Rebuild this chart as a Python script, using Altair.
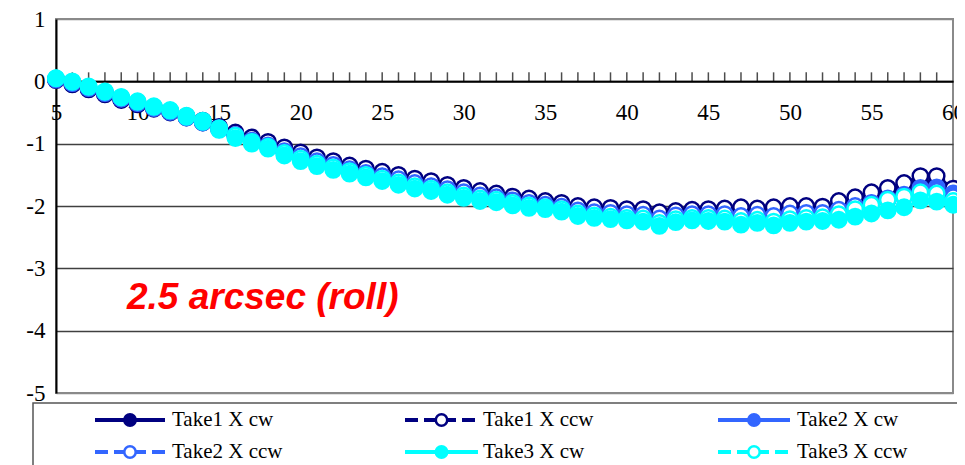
import altair as alt
import pandas as pd

# ---------------- data ----------------
x_vals = list(range(5, 61))
series_names = ["Take1 X cw", "Take1 X ccw", "Take2 X cw", "Take2 X ccw", "Take3 X cw", "Take3 X ccw"]
series_colors = ["#000080", "#000080", "#3366FF", "#3366FF", "#00FFFF", "#00FFFF"]
series_open = [False, True, False, True, False, True]
draw_order = ["Take1 X cw", "Take1 X ccw", "Take2 X cw", "Take2 X ccw", "Take3 X ccw", "Take3 X cw"]
y_ticks = [1, 0, -1, -2, -3, -4, -5]
x_label_vals = [5, 10, 15, 20, 25, 30, 35, 40, 45, 50, 55, 60]
minor_ticks = list(range(6, 60))
annotation = "2.5 arcsec (roll)"

take1_cw = [0.02, -0.05, -0.13, -0.21, -0.30, -0.37, -0.44, -0.50, -0.58, -0.66,
            -0.76, -0.86, -0.94, -1.02, -1.11, -1.19, -1.27, -1.33, -1.40, -1.45,
            -1.50, -1.56, -1.61, -1.66, -1.71, -1.76, -1.81, -1.84, -1.89, -1.93,
            -1.96, -1.99, -2.05, -2.08, -2.09, -2.11, -2.12, -2.17, -2.13, -2.11,
            -2.10, -2.10, -2.10, -2.10, -2.10, -2.07, -2.06, -2.07, -2.00, -1.95,
            -1.88, -1.82, -1.75, -1.64, -1.62, -1.74]
take1_ccw = [0.03, -0.04, -0.12, -0.20, -0.29, -0.36, -0.42, -0.48, -0.56, -0.63,
             -0.73, -0.82, -0.90, -0.97, -1.06, -1.14, -1.22, -1.28, -1.35, -1.40,
             -1.45, -1.50, -1.56, -1.60, -1.66, -1.71, -1.76, -1.80, -1.85, -1.88,
             -1.92, -1.95, -2.00, -2.02, -2.03, -2.05, -2.05, -2.10, -2.08, -2.06,
             -2.05, -2.04, -2.02, -2.04, -2.02, -2.00, -2.00, -2.01, -1.92, -1.86,
             -1.78, -1.71, -1.63, -1.52, -1.52, -1.72]
take2_cw = [0.03, -0.03, -0.11, -0.19, -0.28, -0.35, -0.43, -0.49, -0.58, -0.66,
            -0.77, -0.88, -0.96, -1.04, -1.14, -1.22, -1.30, -1.36, -1.42, -1.48,
            -1.53, -1.59, -1.65, -1.69, -1.75, -1.80, -1.85, -1.88, -1.92, -1.96,
            -1.99, -2.02, -2.09, -2.12, -2.13, -2.15, -2.16, -2.22, -2.17, -2.15,
            -2.15, -2.15, -2.17, -2.16, -2.17, -2.14, -2.13, -2.13, -2.07, -2.01,
            -1.95, -1.88, -1.82, -1.71, -1.70, -1.80]
take2_ccw = [0.04, -0.02, -0.10, -0.18, -0.27, -0.34, -0.42, -0.48, -0.57, -0.64,
             -0.75, -0.86, -0.95, -1.03, -1.12, -1.20, -1.28, -1.34, -1.41, -1.47,
             -1.52, -1.57, -1.63, -1.68, -1.73, -1.78, -1.83, -1.86, -1.91, -1.95,
             -1.98, -2.01, -2.07, -2.10, -2.11, -2.13, -2.14, -2.20, -2.15, -2.13,
             -2.13, -2.13, -2.16, -2.14, -2.16, -2.12, -2.11, -2.11, -2.06, -2.00,
             -1.96, -1.90, -1.85, -1.77, -1.76, -1.86]
take3_cw = [0.05, -0.01, -0.09, -0.17, -0.26, -0.33, -0.41, -0.47, -0.57, -0.65,
            -0.78, -0.91, -1.00, -1.08, -1.19, -1.28, -1.36, -1.42, -1.48, -1.54,
            -1.60, -1.66, -1.72, -1.76, -1.82, -1.87, -1.92, -1.94, -1.99, -2.03,
            -2.05, -2.09, -2.16, -2.19, -2.21, -2.23, -2.25, -2.32, -2.26, -2.23,
            -2.24, -2.25, -2.30, -2.27, -2.31, -2.27, -2.25, -2.24, -2.22, -2.17,
            -2.12, -2.07, -2.02, -1.91, -1.93, -1.98]
take3_ccw = [0.05, 0.00, -0.08, -0.16, -0.25, -0.32, -0.40, -0.46, -0.55, -0.63,
             -0.75, -0.87, -0.97, -1.05, -1.15, -1.24, -1.32, -1.38, -1.44, -1.50,
             -1.56, -1.62, -1.68, -1.72, -1.78, -1.83, -1.88, -1.90, -1.95, -1.99,
             -2.02, -2.05, -2.12, -2.15, -2.17, -2.19, -2.20, -2.27, -2.21, -2.19,
             -2.19, -2.20, -2.24, -2.22, -2.25, -2.21, -2.19, -2.18, -2.13, -2.05,
             -1.98, -1.90, -1.85, -1.78, -1.80, -1.92]

series_values = {
    "Take1 X cw": take1_cw,
    "Take1 X ccw": take1_ccw,
    "Take2 X cw": take2_cw,
    "Take2 X ccw": take2_ccw,
    "Take3 X cw": take3_cw,
    "Take3 X ccw": take3_ccw,
}

rows = []
for name in draw_order:
    for xv, yv in zip(x_vals, series_values[name]):
        rows.append({"series": name, "x": xv, "y": yv})
df = pd.DataFrame(rows)
df_ticks = pd.DataFrame({"x": minor_ticks})
one = pd.DataFrame({"a": [0]})

fills = ["white" if o else c for c, o in zip(series_colors, series_open)]
dashes = [[13, 6] if o else [1, 0] for o in series_open]

# ---------------- layout constants ----------------
W, H = 897, 374
zero_px = H / 6.0  # pixel y of value 0 (domain 1..-5)
SERIF = "Liberation Serif"

xscale = alt.Scale(domain=[5, 60], nice=False, zero=False)
yscale = alt.Scale(domain=[-5, 1], nice=False, zero=False)

x_enc = alt.X(
    "x:Q", scale=xscale,
    axis=alt.Axis(
        values=x_label_vals, orient="bottom", offset=-(H - zero_px), title=None,
        ticks=False, tickSize=0, labelPadding=20, labelBaseline="top",
        labelFont=SERIF, labelFontSize=23, labelColor="black", labelFlush=False,
        domainColor="black", domainWidth=2, grid=False,
    ),
)
y_enc = alt.Y(
    "y:Q", scale=yscale,
    axis=alt.Axis(
        values=y_ticks, title=None, ticks=False, tickSize=0, labelPadding=11,
        labelFont=SERIF, labelFontSize=23, labelColor="black",
        labelExpr="datum.value + ''",
        domainColor="black", domainWidth=2,
        grid=True, gridWidth=1.5,
        gridColor={"condition": {"test": "datum.value == 1 || datum.value == -5", "value": "#8a8a8a"},
                   "value": "#404040"},
    ),
)

legend_box = alt.Chart(one).mark_rect(fill="white", stroke="#555555", strokeWidth=1.5).encode(
    x=alt.value(-23), x2=alt.value(930), y=alt.value(384), y2=alt.value(480)
)

lines = alt.Chart(df).mark_line(strokeWidth=3).encode(
    x=x_enc, y=y_enc,
    color=alt.Color("series:N", scale=alt.Scale(domain=series_names, range=series_colors), legend=None),
    strokeDash=alt.StrokeDash("series:N", scale=alt.Scale(domain=series_names, range=dashes), legend=None),
    detail="series:N",
)

ticks = alt.Chart(df_ticks).mark_tick(
    orient="vertical", size=9, thickness=1.5, color="black", yOffset=-4.5
).encode(x=alt.X("x:Q", scale=xscale), y=alt.datum(0))

points = alt.Chart(df).mark_point(
    shape="circle", size=235, strokeWidth=2.5, filled=True, opacity=1, fillOpacity=1, strokeOpacity=1
).encode(
    x=alt.X("x:Q", scale=xscale),
    y=alt.Y("y:Q", scale=yscale),
    stroke=alt.Stroke("series:N", scale=alt.Scale(domain=series_names, range=series_colors), legend=None),
    fill=alt.Fill("series:N", scale=alt.Scale(domain=series_names, range=fills), legend=None),
)

note = alt.Chart(one).mark_text(
    text=annotation, color="#FF0000", font="Liberation Sans", fontSize=37,
    fontWeight="bold", fontStyle="italic", align="left", baseline="middle"
).encode(x=alt.value(71), y=alt.value(279))

# custom legend (two rows x three columns)
sym_x0 = [39, 349, 662]
sym_x1 = [109, 422, 734]
txt_x = [116, 427, 741]
row_y = [401, 433]
legend_layers = []
for i, name in enumerate(series_names):
    c, r = i % 3, i // 3
    col = series_colors[i]
    rule_kw = dict(color=col, strokeWidth=4)
    if series_open[i]:
        rule_kw["strokeDash"] = [13, 6]
    legend_layers.append(
        alt.Chart(one).mark_rule(**rule_kw).encode(
            x=alt.value(sym_x0[c]), x2=alt.value(sym_x1[c]), y=alt.value(row_y[r]))
    )
    legend_layers.append(
        alt.Chart(one).mark_point(shape="circle", size=130, filled=True, fill=fills[i],
                                  stroke=col, strokeWidth=2.5, opacity=1).encode(
            x=alt.value((sym_x0[c] + sym_x1[c]) / 2), y=alt.value(row_y[r]))
    )
    legend_layers.append(
        alt.Chart(one).mark_text(text=name, font=SERIF, fontSize=21, color="black",
                                 align="left", baseline="middle").encode(
            x=alt.value(txt_x[c]), y=alt.value(row_y[r]))
    )

chart = alt.layer(legend_box, lines, ticks, points, note, *legend_layers).properties(
    width=W, height=H,
    padding={"left": 48, "top": 11, "right": 4, "bottom": 74},
    autosize=alt.AutoSizeParams(type="none"),
).configure_view(stroke="#8a8a8a", strokeWidth=2)

chart.save("out.html", embed_options={"renderer": "svg", "actions": False})
